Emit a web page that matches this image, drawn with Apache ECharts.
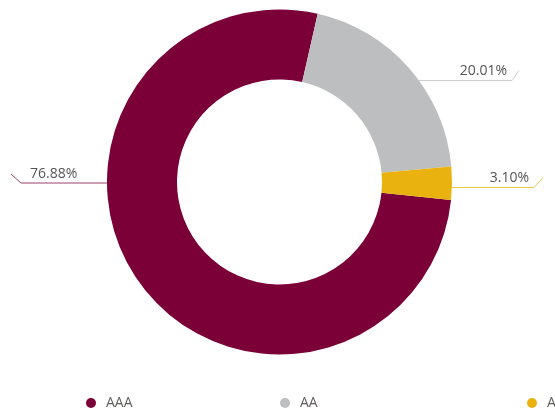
<!DOCTYPE html>
<html>
<head>
<meta charset="utf-8">
<script src="https://cdn.jsdelivr.net/npm/echarts@6/dist/echarts.min.js"></script>
<style>
  html, body { margin: 0; padding: 0; background: #fff; }
  #chart { width: 555px; height: 411px; }
</style>
</head>
<body>
<div id="chart"></div>
<script>
// Rating breakdown (share of portfolio, %)
const categories = ['AAA', 'AA', 'A'];
const shares = [76.88, 20.01, 3.10];
const colors = ['#7A0037', '#BCBEC0', '#EAB20E'];

// Donut geometry
const CX = 279.5, CY = 182, R_IN = 102.5, R_OUT = 172.5;

// Leader line layout per slice: horizontal run at lineY ending at endX, then a short tick
const leader = [
  { lineY: 183, endX: 21, tickDx: -10, tickDy: -9, side: 'left' },
  { lineY: 80.5, endX: 512, tickDx: 7, tickDy: -10, side: 'right' },
  { lineY: 187.5, endX: 534, tickDx: 9, tickDy: -10, side: 'right' }
];

const chart = echarts.init(document.getElementById('chart'), null, { renderer: 'canvas' });

const legends = [
  { name: 'AAA', left: 86 },
  { name: 'AA', left: 280 },
  { name: 'A', left: 527 }
].map(l => ({
  data: [l.name],
  left: l.left,
  top: 396,
  icon: 'circle',
  itemWidth: 10,
  itemHeight: 10,
  selectedMode: false,
  padding: 0,
  textStyle: {
    color: '#605E5C',
    fontSize: 14,
    fontFamily: 'Open Sans',
    padding: [0, 0, 0, 5]
  }
}));

chart.setOption({
  animation: false,
  color: colors,
  legend: legends,
  series: [{
    type: 'pie',
    center: [CX, CY],
    radius: [R_IN, R_OUT],
    startAngle: -6,
    clockwise: true,
    avoidLabelOverlap: false,
    data: categories.map((c, i) => ({ name: c, value: shares[i] })),
    itemStyle: { borderWidth: 0 },
    label: {
      show: true,
      formatter: p => p.value.toFixed(2) + '%',
      color: '#555555',
      fontSize: 14,
      fontFamily: 'Open Sans'
    },
    labelLine: {
      show: true,
      lineStyle: { width: 1, opacity: 0.75 }
    },
    labelLayout: function (params) {
      const cfg = leader[params.dataIndex];
      const dy = cfg.lineY - CY;
      const dx = Math.sqrt(R_OUT * R_OUT - dy * dy) - 0.5;
      const startX = cfg.side === 'left' ? CX - dx : CX + dx;
      const pts = [
        [startX, cfg.lineY],
        [cfg.endX, cfg.lineY],
        [cfg.endX + cfg.tickDx, cfg.lineY + cfg.tickDy]
      ];
      return {
        x: cfg.side === 'left' ? cfg.endX + 9 : cfg.endX - 5,
        y: cfg.lineY - 2,
        align: cfg.side === 'left' ? 'left' : 'right',
        verticalAlign: 'bottom',
        labelLinePoints: pts
      };
    }
  }]
});
</script>
</body>
</html>
